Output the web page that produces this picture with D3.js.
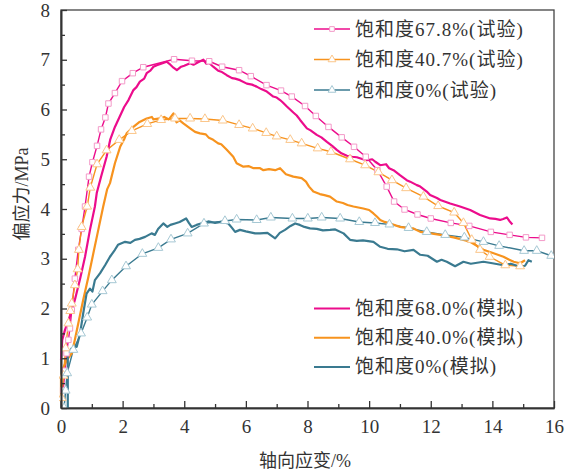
<!DOCTYPE html>
<html>
<head>
<meta charset="utf-8">
<script src="https://cdn.jsdelivr.net/npm/d3@7"></script>
<style>
  body { margin: 0; background: #fff; }
  svg text { font-family: "Liberation Serif", "Noto Sans CJK SC", serif; fill: #333; }
</style>
</head>
<body>
<svg id="chart" width="568" height="471"></svg>
<script>
// Axis ticks
const xTicks = [0, 2, 4, 6, 8, 10, 12, 14, 16];
const yTicks = [0, 1, 2, 3, 4, 5, 6, 7, 8];

// Test curves (with markers)
const test678 = [[0.07,0.36],[0.13,0.75],[0.18,1.1],[0.24,1.37],[0.29,1.6],[0.35,1.97],[0.45,2.6],[0.56,3.18],[0.67,3.6],[0.78,4.05],[0.91,4.65],[1.02,4.94],[1.17,5.27],[1.30,5.60],[1.44,5.84],[1.54,6.12],[1.75,6.33],[1.98,6.57],[2.33,6.73],[2.67,6.85],[3.67,7.01],[4.25,6.98],[4.81,6.97],[5.23,6.86],[5.78,6.79],[6.16,6.67],[6.67,6.49],[7.14,6.38],[7.49,6.26],[7.92,6.07],[8.27,5.87],[8.68,5.65],[9.11,5.44],[9.51,5.25],[9.89,5.05],[10.27,4.78],[10.57,4.45],[10.81,4.15],[11.15,3.99],[11.57,3.89],[12.00,3.81],[12.65,3.72],[13.25,3.66],[13.95,3.54],[14.56,3.48],[15.09,3.43],[15.61,3.42]];
const test407 = [[0.02,0.2],[0.08,0.65],[0.15,1.2],[0.24,1.7],[0.3,1.95],[0.35,2.1],[0.45,2.47],[0.54,2.79],[0.58,3.18],[0.67,3.64],[0.85,4.05],[0.95,4.43],[1.17,4.90],[1.48,5.18],[1.89,5.39],[2.3,5.57],[2.8,5.71],[3.25,5.79],[3.70,5.82],[4.19,5.82],[4.67,5.81],[5.25,5.78],[5.78,5.69],[6.22,5.62],[6.66,5.53],[7.0,5.46],[7.44,5.39],[7.81,5.32],[8.33,5.22],[8.76,5.15],[9.38,5.0],[9.87,4.88],[10.30,4.74],[10.74,4.58],[11.2,4.42],[11.76,4.25],[12.24,4.06],[12.76,3.93],[13.06,3.72],[13.33,3.38],[13.60,3.18],[13.91,3.04],[14.42,2.87],[14.90,2.85]];
const test0 = [[0.1,0],[0.15,0.35],[0.2,0.7],[0.4,1.17],[0.65,1.5],[0.85,1.82],[1.0,2.08],[1.35,2.35],[1.65,2.57],[2.11,2.85],[2.64,3.10],[3.16,3.22],[3.57,3.39],[4.11,3.51],[4.64,3.71],[5.32,3.76],[5.70,3.79],[6.35,3.78],[6.81,3.83],[7.51,3.81],[8.01,3.81],[8.46,3.83],[9.06,3.81],[9.68,3.74],[10.19,3.72],[10.66,3.69],[11.28,3.62],[11.87,3.54],[12.47,3.48],[13.09,3.43],[13.71,3.34],[14.22,3.26],[15.03,3.16],[15.44,3.16],[15.91,3.06]];

// Simulated curves (plain lines)
const sim680 = [[0,0.97],[0.04,1.37],[0.13,1.57],[0.29,1.84],[0.45,2.17],[0.62,2.6],[0.78,3.04],[0.94,3.58],[1.10,4.05],[1.16,4.32],[1.3,4.65],[1.48,5.05],[1.6,5.4],[1.75,5.65],[1.9,5.85],[2.05,6.05],[2.19,6.19],[2.35,6.39],[2.45,6.45],[2.56,6.56],[2.7,6.62],[2.78,6.73],[2.9,6.78],[3.0,6.86],[3.11,6.89],[3.25,6.92],[3.43,6.96],[3.55,6.90],[3.65,6.84],[3.76,6.79],[3.9,6.86],[4.0,6.88],[4.19,6.93],[4.3,6.9],[4.45,6.95],[4.62,7.0],[4.72,6.92],[4.8,6.94],[4.94,6.86],[5.1,6.78],[5.2,6.76],[5.38,6.69],[5.55,6.63],[5.65,6.62],[5.81,6.59],[6.03,6.52],[6.2,6.50],[6.35,6.46],[6.5,6.41],[6.68,6.36],[6.89,6.26],[7.0,6.24],[7.11,6.19],[7.2,6.14],[7.33,6.06],[7.54,5.94],[7.65,5.88],[7.76,5.79],[7.98,5.62],[8.1,5.58],[8.30,5.49],[8.45,5.44],[8.63,5.35],[8.8,5.27],[8.95,5.19],[9.1,5.12],[9.28,5.07],[9.45,5.05],[9.60,5.04],[9.8,5.0],[9.93,4.98],[10.1,5.0],[10.2,4.95],[10.36,4.88],[10.55,4.9],[10.65,4.82],[10.79,4.78],[11.0,4.68],[11.22,4.58],[11.33,4.55],[11.55,4.48],[11.66,4.45],[11.87,4.35],[11.98,4.28],[12.2,4.22],[12.31,4.18],[12.63,4.11],[12.95,4.05],[13.28,3.98],[13.6,3.88],[13.93,3.81],[14.1,3.80],[14.25,3.78],[14.35,3.80],[14.47,3.83],[14.55,3.76],[14.65,3.69]];
const sim400 = [[0,0.2],[0,0.63],[0.07,0.8],[0.18,0.96],[0.35,1.10],[0.45,1.37],[0.56,1.70],[0.72,2.17],[0.89,2.64],[1.05,3.11],[1.21,3.58],[1.37,4.05],[1.5,4.4],[1.59,4.52],[1.75,4.92],[1.92,5.25],[2.05,5.40],[2.13,5.52],[2.35,5.65],[2.55,5.75],[2.78,5.82],[2.95,5.85],[3.0,5.80],[3.21,5.82],[3.35,5.85],[3.5,5.80],[3.65,5.92],[3.75,5.74],[3.85,5.78],[3.97,5.72],[4.19,5.62],[4.35,5.55],[4.51,5.52],[4.7,5.50],[4.8,5.43],[4.94,5.39],[5.1,5.32],[5.2,5.30],[5.38,5.19],[5.59,5.05],[5.7,4.92],[5.92,4.85],[6.1,4.86],[6.25,4.82],[6.46,4.82],[6.57,4.78],[6.75,4.80],[6.95,4.78],[7.11,4.82],[7.3,4.70],[7.54,4.65],[7.81,4.62],[7.95,4.55],[8.05,4.45],[8.19,4.35],[8.4,4.30],[8.55,4.28],[8.73,4.25],[8.95,4.15],[9.15,4.12],[9.3,4.08],[9.49,4.05],[9.65,4.03],[9.81,4.01],[10.0,3.98],[10.14,3.91],[10.25,3.85],[10.36,3.78],[10.5,3.74],[10.68,3.71],[11.0,3.64],[11.33,3.61],[11.44,3.61],[11.66,3.54],[11.9,3.52],[12.31,3.48],[12.74,3.43],[13.06,3.38],[13.25,3.35],[13.44,3.28],[13.71,3.18],[14.04,3.11],[14.36,3.04],[14.55,2.98],[14.69,2.94],[14.90,2.91],[15.06,2.97]];
const sim0 = [[0.22,0],[0.22,1.1],[0.35,1.2],[0.51,1.23],[0.62,1.5],[0.72,1.9],[0.83,2.30],[0.94,2.4],[1.02,2.34],[1.10,2.57],[1.27,2.71],[1.43,2.87],[1.59,3.04],[1.75,3.18],[1.85,3.28],[2.08,3.34],[2.25,3.32],[2.40,3.38],[2.55,3.40],[2.73,3.44],[2.94,3.51],[3.05,3.48],[3.15,3.6],[3.32,3.71],[3.45,3.64],[3.55,3.68],[3.70,3.71],[3.85,3.74],[4.06,3.81],[4.15,3.72],[4.24,3.64],[4.4,3.68],[4.6,3.72],[4.78,3.75],[5.0,3.72],[5.2,3.74],[5.43,3.71],[5.55,3.62],[5.65,3.54],[5.81,3.58],[6.0,3.55],[6.30,3.51],[6.46,3.51],[6.7,3.52],[6.95,3.41],[7.1,3.52],[7.27,3.58],[7.45,3.66],[7.60,3.71],[7.75,3.68],[7.9,3.64],[8.08,3.61],[8.3,3.60],[8.5,3.57],[8.73,3.58],[8.9,3.59],[9.17,3.51],[9.38,3.38],[9.6,3.36],[9.8,3.37],[10.14,3.34],[10.36,3.24],[10.6,3.20],[10.90,3.19],[11.15,3.15],[11.44,3.18],[11.66,3.08],[11.9,3.06],[12.2,2.94],[12.35,2.98],[12.52,2.94],[12.79,2.85],[13.06,2.94],[13.3,2.90],[13.71,2.94],[14.0,2.91],[14.36,2.87],[14.6,2.90],[14.90,2.84],[15.06,2.86],[15.17,2.97],[15.28,2.94]];

const testLabels = ["饱和度67.8%(试验)", "饱和度40.7%(试验)", "饱和度0%(试验)"];
const simLabels = ["饱和度68.0%(模拟)", "饱和度40.0%(模拟)", "饱和度0%(模拟)"];

const colors = ["#ec0c8c", "#f7931e", "#3a7a90"];
const lightColors = ["#f39ac8", "#fbc68a", "#a6c8d4"];
const markerTypes = [d3.symbolSquare, d3.symbolTriangle, d3.symbolTriangle];

const margin = { top: 10, right: 14, bottom: 63, left: 61 };
const width = 568, height = 471;
const plotWidth = width - margin.left - margin.right;
const plotHeight = height - margin.top - margin.bottom;

const svg = d3.select("#chart");
const g = svg.append("g").attr("transform", `translate(${margin.left},${margin.top})`);

const x = d3.scaleLinear().domain([0, 16]).range([0, plotWidth]);
const y = d3.scaleLinear().domain([0, 8]).range([plotHeight, 0]);

// Frame (top and right)
g.append("rect")
  .attr("width", plotWidth).attr("height", plotHeight)
  .attr("fill", "none").attr("stroke", "#444").attr("stroke-width", 1.3);

const line = d3.line().x(d => x(d[0])).y(d => y(d[1]));

g.append("clipPath").attr("id", "clip")
  .append("rect").attr("x", -2).attr("width", plotWidth + 2).attr("height", plotHeight);

const curves = g.append("g").attr("clip-path", "url(#clip)");

// Test curves: thin line with hollow markers
[test678, test407, test0].forEach((data, i) => {
  curves.append("path")
    .datum(data)
    .attr("d", line)
    .attr("fill", "none")
    .attr("stroke", colors[i])
    .attr("stroke-width", 1.4);
});

// Simulated curves: thicker plain lines
[sim680, sim400, sim0].forEach((data, i) => {
  curves.append("path")
    .datum(data)
    .attr("d", line)
    .attr("fill", "none")
    .attr("stroke", colors[i])
    .attr("stroke-width", 2.2)
    .attr("stroke-linejoin", "round");
});

// Markers on test curves
[test678, test407, test0].forEach((data, i) => {
  const sym = d3.symbol().type(markerTypes[i]).size(i === 0 ? 30 : 34);
  curves.append("g").selectAll("path")
    .data(data)
    .join("path")
    .attr("transform", d => `translate(${x(d[0])},${y(d[1])})`)
    .attr("d", sym)
    .attr("fill", "#fff")
    .attr("stroke", lightColors[i])
    .attr("stroke-width", 1);
});

// Axes with inward ticks
const xAxis = g.append("g")
  .attr("transform", `translate(0,${plotHeight})`)
  .call(d3.axisBottom(x).tickValues(xTicks).tickSizeInner(-7).tickSizeOuter(0).tickPadding(12));
g.append("g")
  .attr("transform", `translate(0,${plotHeight})`)
  .call(d3.axisBottom(x).tickValues(d3.range(1, 16, 2)).tickSizeInner(-4).tickSizeOuter(0).tickFormat(""));

g.append("g")
  .call(d3.axisLeft(y).tickValues(yTicks).tickSizeInner(-6).tickSizeOuter(0).tickPadding(11));
g.append("g")
  .call(d3.axisLeft(y).tickValues(d3.range(0.5, 8, 1)).tickSizeInner(-4).tickSizeOuter(0).tickFormat(""));

g.selectAll(".domain").attr("stroke", "#333").attr("stroke-width", 1.6);
g.selectAll(".tick line").attr("stroke", "#333").attr("stroke-width", 1.3);
g.selectAll(".tick text").attr("font-size", 19).attr("fill", "#333")
  .attr("font-family", "Liberation Serif, serif");
xAxis.selectAll(".tick text").attr("dy", "0.71em");

// Axis titles
svg.append("text")
  .attr("x", 305).attr("y", 467)
  .attr("text-anchor", "middle")
  .attr("font-size", 18)
  .text("轴向应变/%");

svg.append("text")
  .attr("transform", "translate(28,194) rotate(-90)")
  .attr("text-anchor", "middle")
  .attr("font-size", 18)
  .text("偏应力/MPa");

// Legend: test curves
const legTop = svg.append("g");
testLabels.forEach((label, i) => {
  const cy = 29 + i * 30.5;
  legTop.append("line")
    .attr("x1", 314).attr("x2", 350).attr("y1", cy).attr("y2", cy)
    .attr("stroke", colors[i]).attr("stroke-width", 1.6);
  legTop.append("path")
    .attr("transform", `translate(332,${cy})`)
    .attr("d", d3.symbol().type(markerTypes[i]).size(i === 0 ? 22 : 26))
    .attr("fill", "#fff").attr("stroke", lightColors[i]).attr("stroke-width", 1);
  legTop.append("text")
    .attr("x", 355).attr("y", cy + 6.5)
    .attr("font-size", 19)
    .attr("letter-spacing", 1)
    .text(label);
});

// Legend: simulated curves
const legBottom = svg.append("g");
simLabels.forEach((label, i) => {
  const cy = 308.5 + i * 29.2;
  legBottom.append("line")
    .attr("x1", 314).attr("x2", 350).attr("y1", cy).attr("y2", cy)
    .attr("stroke", colors[i]).attr("stroke-width", 2);
  legBottom.append("text")
    .attr("x", 355).attr("y", cy + 6.5)
    .attr("font-size", 19)
    .attr("letter-spacing", 1)
    .text(label);
});
</script>
</body>
</html>
